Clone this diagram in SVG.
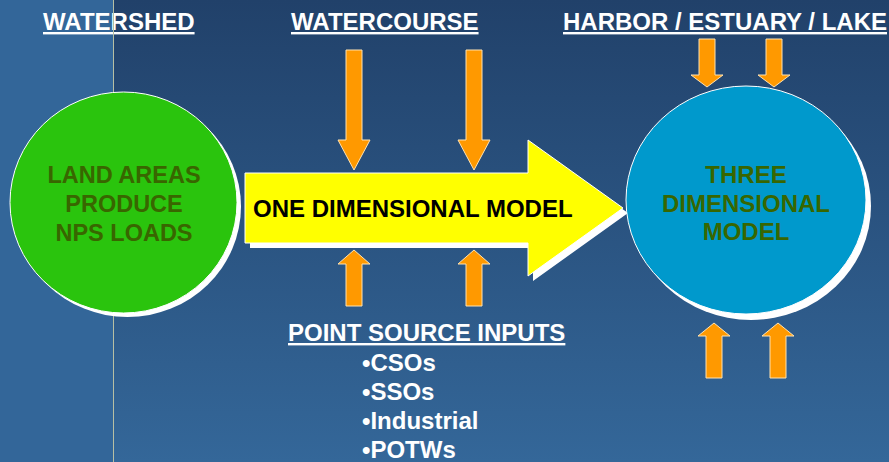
<svg xmlns="http://www.w3.org/2000/svg" width="889" height="462" viewBox="0 0 889 462">
  <defs>
    <linearGradient id="bgGrad" x1="0" y1="0" x2="0" y2="1">
      <stop offset="0" stop-color="#21416a"/>
      <stop offset="1" stop-color="#346799"/>
    </linearGradient>
    <style>
      .hdr { font-family: "Liberation Sans", Arial, sans-serif; font-weight: bold; font-size: 24px; fill: #ffffff; text-decoration: underline; }
      .list { font-family: "Liberation Sans", Arial, sans-serif; font-weight: bold; font-size: 24px; fill: #ffffff; }
      .node-label { font-family: "Liberation Sans", Arial, sans-serif; font-weight: bold; font-size: 23.5px; fill: #386600; text-anchor: middle; }
      .model-label { font-family: "Liberation Sans", Arial, sans-serif; font-weight: bold; font-size: 24px; fill: #000000; }
      .shadow { fill: #ffffff; }
      .flow { fill: #ff9900; stroke: #ffe2b0; stroke-width: 1; }
    </style>
  </defs>

  <!-- background: light left strip, graded main panel, thin divider -->
  <rect x="0" y="0" width="889" height="462" fill="url(#bgGrad)"/>
  <rect x="0" y="0" width="113" height="462" fill="#336699"/>

  <!-- column headings -->
  <g id="headings">
    <text class="hdr" x="43" y="30">WATERSHED</text>
    <text class="hdr" x="291" y="30">WATERCOURSE</text>
    <text class="hdr" x="563" y="30">HARBOR / ESTUARY / LAKE</text>
  </g>

  <line x1="113.5" y1="0" x2="113.5" y2="462" stroke="#b7bfa3" stroke-width="1"/>

  <!-- watershed: land areas -->
  <g id="land-areas">
    <ellipse class="shadow" cx="127.5" cy="206.5" rx="113.5" ry="110.5"/>
    <ellipse cx="123.5" cy="202.5" rx="113.5" ry="110.5" fill="#2ac40d" stroke="#ffffff" stroke-width="1"/>
    <text class="node-label" x="124" y="183">LAND AREAS</text>
    <text class="node-label" x="124" y="212">PRODUCE</text>
    <text class="node-label" x="124" y="241">NPS LOADS</text>
  </g>

  <!-- watercourse: one dimensional model arrow -->
  <g id="one-dimensional-model">
    <path class="shadow" transform="translate(5,5)" d="M245,173 H528 V140 L623,208 L528,276 V243 H245 Z"/>
    <path d="M245,173 H528 V140 L623,208 L528,276 V243 H245 Z" fill="#ffff00" stroke="#ffffff" stroke-width="1"/>
    <text class="model-label" x="253" y="217">ONE DIMENSIONAL MODEL</text>
  </g>

  <!-- harbor / estuary / lake: three dimensional model -->
  <g id="three-dimensional-model">
    <ellipse class="shadow" cx="751" cy="206" rx="120" ry="114"/>
    <ellipse cx="746" cy="200" rx="120" ry="114" fill="#0099cc" stroke="#ffffff" stroke-width="1"/>
    <text class="node-label" x="746" y="183" style="font-size:24px">THREE</text>
    <text class="node-label" x="746" y="212" style="font-size:24px">DIMENSIONAL</text>
    <text class="node-label" x="746" y="240" style="font-size:24px">MODEL</text>
  </g>

  <!-- point source inputs -->
  <g id="point-source-inputs">
    <text class="hdr" x="288" y="341">POINT SOURCE INPUTS</text>
    <text class="list" x="362" y="371">•CSOs</text>
    <text class="list" x="362" y="400">•SSOs</text>
    <text class="list" x="362" y="429">•Industrial</text>
    <text class="list" x="362" y="457.5">•POTWs</text>
  </g>

  <!-- load arrows -->
  <g id="connectors">
    <path class="flow" d="M346,50 H362 V140 H370 L354,170 L338,140 H346 Z"/>
    <path class="flow" d="M466,50 H482 V140 H490 L474,170 L458,140 H466 Z"/>
    <path class="flow" d="M354,250 L370,264 H362 V306 H346 V264 H338 Z"/>
    <path class="flow" d="M474,250 L490,264 H482 V306 H466 V264 H458 Z"/>
    <path class="flow" d="M699,39 H715 V75 H723 L707,87 L691,75 H699 Z"/>
    <path class="flow" d="M766,39 H782 V75 H790 L774,87 L758,75 H766 Z"/>
    <path class="flow" d="M714,323 L730,336 H722 V378 H706 V336 H698 Z"/>
    <path class="flow" d="M778,323 L794,336 H786 V378 H770 V336 H762 Z"/>
  </g>
</svg>
